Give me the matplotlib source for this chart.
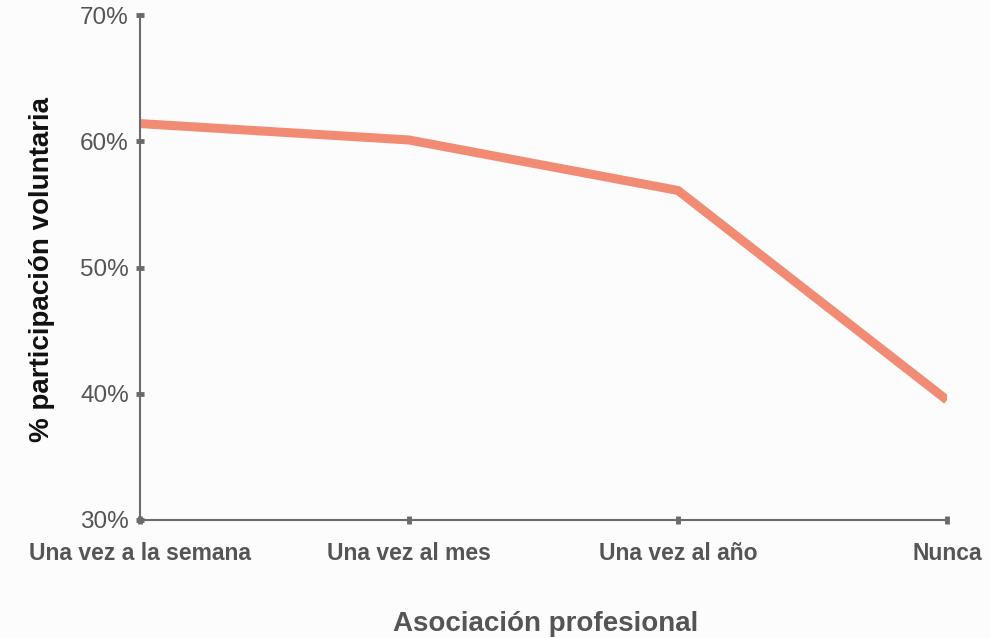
import matplotlib
matplotlib.use("Agg")
import matplotlib.pyplot as plt
from matplotlib.ticker import FuncFormatter

categories = ["Una vez a la semana", "Una vez al mes", "Una vez al año", "Nunca"]
values = [61.4, 60.1, 56.1, 39.5]
y_ticks = [30, 40, 50, 60, 70]

plt.rcParams['font.family'] = ['Liberation Sans', 'DejaVu Sans']

fig = plt.figure(figsize=(9.9, 6.38), dpi=100, facecolor='#fcfcfc')
ax = fig.add_axes([140/990, 1-520/638, (947-140)/990, (520-15)/638])
ax.set_facecolor('#fcfcfc')

x = list(range(len(categories)))
ax.plot(x, values, color='#F28B73', linewidth=6.5, solid_joinstyle='miter', solid_capstyle='butt')

ax.set_xlim(0, len(categories) - 1)
ax.set_ylim(30, 70)
ax.set_yticks(y_ticks)
ax.yaxis.set_major_formatter(FuncFormatter(lambda v, p: f"{int(v)}%"))
ax.set_xticks(x)
ax.set_xticklabels(categories, fontsize=16.5, fontweight='bold', color='#555555')

for s in ['top', 'right']:
    ax.spines[s].set_visible(False)
for s in ['left', 'bottom']:
    ax.spines[s].set_color('#6b6b6b')
    ax.spines[s].set_linewidth(1.5)

ax.tick_params(axis='y', direction='inout', length=6, width=3.5, color='#6b6b6b',
               labelsize=17.5, labelcolor='#555555', pad=5)
ax.tick_params(axis='x', direction='inout', length=6, width=3.5, color='#6b6b6b', pad=13)

fig.text(42/990, 1-270/638, "% participación voluntaria", rotation=90, ha='center', va='center',
         fontsize=20, fontweight='bold', color='#111111')
fig.text(546/990, 1-624/638, "Asociación profesional", ha='center', va='center',
         fontsize=20, fontweight='bold', color='#555555')

fig.savefig("out.png", dpi=100, facecolor=fig.get_facecolor())
